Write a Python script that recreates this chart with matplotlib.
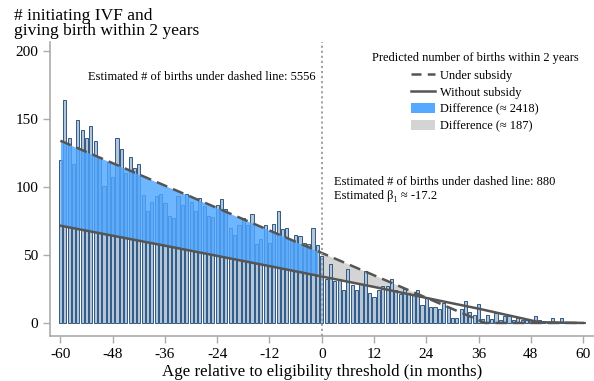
import matplotlib
matplotlib.use("Agg")
import matplotlib.pyplot as plt
from matplotlib.lines import Line2D
from matplotlib.patches import Patch
import numpy as np

plt.rcParams['font.family'] = ['Liberation Serif', 'DejaVu Serif']
plt.rcParams['axes.unicode_minus'] = False

# Monthly counts of women initiating IVF and giving birth within 2 years
months = list(range(-60, 61))
births = [
    120, 164, 136, 117, 149, 142, 136, 145, 134, 122,   # -60 .. -51
    101, 118, 107, 136, 128, 110, 122, 114, 117, 94,    # -50 .. -41
    82, 89, 93, 95, 88, 79, 77, 93, 87, 95,             # -40 .. -31
    89, 82, 92, 86, 79, 78, 87, 91, 84, 70,             # -30 .. -21
    65, 72, 77, 72, 80, 58, 62, 72, 59, 73,             # -20 .. -11
    82, 69, 70, 61, 65, 64, 59, 58, 70, 57,             # -10 .. -1
    49, 32, 43, 31, 32, 24, 40, 28, 24, 29,             # 0 .. 9
    38, 22, 19, 24, 27, 27, 32, 24, 21, 25,             # 10 .. 19
    22, 21, 24, 13, 19, 12, 12, 10, 15, 12,             # 20 .. 29
    4, 4, 10, 16, 8, 6, 14, 3, 6, 3,                    # 30 .. 39
    7.6, 2.5, 5, 5, 2, 3.3, 2, 2, 2, 5,                 # 40 .. 49
    2, 1.5, 0.8, 3.5, 1, 3.5, 0.7, 0.5, 1, 1,           # 50 .. 59
    1,                                                  # 60
]

# Predicted counts: under subsidy (dashed) and without subsidy (solid)
subsidy_x = [-60, 0, 37.5, 60]
subsidy_y = [134, 51.5, 0, 0]
nosubsidy_x = [-60, -36, -12, 12, 27, 36, 50, 60]
nosubsidy_y = [71.5, 56.8, 41.8, 26.5, 16.4, 10.5, 0.5, 0]

total_left = 5556
total_right = 880
beta_1 = -17.2
diff_eligible = 2418
diff_ineligible = 187

xticks = list(range(-60, 61, 12))
yticks = [0, 50, 100, 150, 200]

bar_face = '#b3c5d6'
bar_edge = '#24517f'
line_col = '#555555'
blue_fill = '#4ea6ff'
grey_fill = '#d4d4d4'
spine_col = '#ababab'

fig = plt.figure(figsize=(5.94, 3.81), dpi=100)
ax = fig.add_axes([49.5 / 594, 1 - 336 / 381, 1 - 49.5 / 594, (336 - 41.7) / 381])

ax.set_xlim(-62.5, 62.5)
ax.set_ylim(-9.6, 206.8)

# fitted curves on a fine grid
xf = np.linspace(-60, 60, 1201)
dash_f = np.interp(xf, subsidy_x, subsidy_y)
solid_f = np.interp(xf, nosubsidy_x, nosubsidy_y)

# grey difference region beyond the threshold (behind bars)
m_right = (xf >= 0) & (dash_f >= solid_f)
ax.fill_between(xf, solid_f, dash_f, where=m_right, color=grey_fill,
                linewidth=0, zorder=1)

ax.bar(months, births, width=0.72, color=bar_face, edgecolor=bar_edge,
       linewidth=0.65, zorder=2)

# blue difference region before the threshold (over bars)
m_left = xf <= -1
ax.fill_between(xf[m_left], solid_f[m_left], dash_f[m_left], color=blue_fill,
                alpha=0.82, linewidth=0, zorder=3)

ax.plot(subsidy_x, subsidy_y, color=line_col, lw=1.8, ls=(0, (4.5, 2.5)),
        zorder=4)
ax.plot(nosubsidy_x, nosubsidy_y, color=line_col, lw=1.8, zorder=4)

ax.axvline(0, color='#9a9a9a', lw=1.3, ls=(0, (1.2, 1.6)), zorder=5,
           ymin=0, ymax=1)

for s in ['top', 'right']:
    ax.spines[s].set_visible(False)
for s in ['left', 'bottom']:
    ax.spines[s].set_color(spine_col)
    ax.spines[s].set_linewidth(1.2)

ax.set_xticks(xticks)
ax.set_yticks(yticks)
ax.set_yticklabels([str(v) for v in yticks])
ax.tick_params(axis='both', colors=spine_col, labelcolor='black',
               labelsize=11, length=5, width=1.0)
ax.tick_params(axis='y', pad=3)

ax.set_xlabel('Age relative to eligibility threshold (in months)',
              fontsize=12.2, labelpad=2)

fig.text(14 / 594, 1 - 8 / 381, '# initiating IVF and\ngiving birth within 2 years',
         fontsize=12.5, ha='left', va='top', linespacing=0.95)

ax.text(-53.7, 180.5, f'Estimated # of births under dashed line: {total_left}',
        fontsize=9.0, ha='left', va='center')
ax.text(2.9, 103.5, f'Estimated # of births under dashed line: {total_right}',
        fontsize=9.0, ha='left', va='center')
ax.text(2.9, 93.5, f'Estimated β₁ ≈ {beta_1}',
        fontsize=9.0, ha='left', va='center')

handles = [
    Line2D([], [], color=line_col, lw=1.8, ls=(0, (4, 2.5))),
    Line2D([], [], color=line_col, lw=1.8),
    Patch(facecolor='#55aaff', edgecolor='none'),
    Patch(facecolor=grey_fill, edgecolor='none'),
]
labels = ['Under subsidy', 'Without subsidy',
          f'Difference (≈ {diff_eligible})', f'Difference (≈ {diff_ineligible})']
leg = fig.legend(handles, labels, title='Predicted number of births within 2 years',
                 loc='upper center', bbox_to_anchor=(475 / 594, 1 - 52 / 381),
                 frameon=False, fontsize=8.9, title_fontsize=8.9,
                 handlelength=1.9, handleheight=0.85, handletextpad=0.45,
                 labelspacing=0.38, borderaxespad=0, borderpad=0)
leg._legend_box.align = 'center'
leg._legend_box.sep = 4

fig.savefig('out.png', dpi=100)
